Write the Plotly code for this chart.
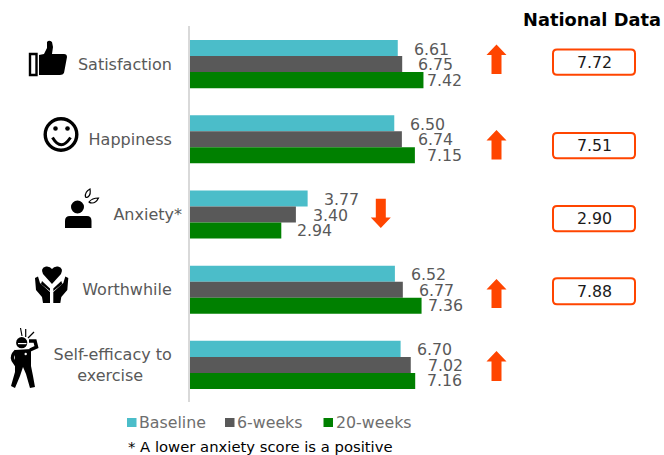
import plotly.graph_objects as go

# ---- data ----
categories = ["Satisfaction", "Happiness", "Anxiety*", "Worthwhile", "Self-efficacy to"]
PAD = "\u00a0\u00a0"
tick_labels = ["Satisfaction" + PAD, "Happiness" + PAD, "Anxiety*", "Worthwhile" + PAD,
               "Self-efficacy to" + PAD + "<br>exercise" + PAD + "\u00a0\u00a0\u00a0\u00a0\u00a0\u2009"]
series_names = ["Baseline", "6-weeks", "20-weeks"]
baseline = [6.61, 6.50, 3.77, 6.52, 6.70]
six_weeks = [6.75, 6.74, 3.40, 6.77, 7.02]
twenty_weeks = [7.42, 7.15, 2.94, 7.36, 7.16]
national = ["7.72", "7.51", "2.90", "7.88", None]
trend = ["up", "up", "down", "up", "up"]
header = "National Data"
footnote = "* A lower anxiety score is a positive"

# ---- style / layout ----
W, H = 664, 455
FONT = "DejaVu Sans"
colors = ["#4BBDC9", "#595959", "#008000"]
ORANGE = "#FF4500"
GREY = "#595959"
PLOT_L, PLOT_T, PLOT_B = 188.0, 26.5, 402.5
label_shift = [[15, 15, 3], [15, 15, 11], [15, 16, 15], [15, 15, 5], [15, 16, 11]]
box_rows = [(49.5, 74.7), (133, 158.3), (206, 231.3), (278.3, 304.3)]
arrow_rows = [(44.5, 74), (130, 159.5), (198.7, 228), (279, 308), (351, 381)]
legend_swatch_x = [127, 225, 323.5]


def X(p):
    return p / W


def Y(p):
    return 1 - p / H


def path(spec):
    """Turn a pixel-space path into a paper-space path."""
    out, is_x = [], True
    for tok in spec.split():
        if tok.isalpha():
            out.append(tok)
            is_x = True
        else:
            v = float(tok)
            out.append(f"{X(v) if is_x else Y(v):.5f}")
            is_x = not is_x
    return " ".join(out)


shapes = []


def add_path(spec, fill="black", lw=0, line="black", closed=True):
    shapes.append(dict(type="path", path=path(spec), xref="paper", yref="paper", layer="above",
                       fillcolor=fill if closed else "rgba(0,0,0,0)",
                       line=dict(color=line, width=lw)))


def add_circle(cx, cy, r, fill="black", lw=0, line="black"):
    shapes.append(dict(type="circle", xref="paper", yref="paper", layer="above",
                       x0=X(cx - r), x1=X(cx + r), y0=Y(cy + r), y1=Y(cy - r),
                       fillcolor=fill, line=dict(color=line, width=lw)))


def add_rect(x0, y0, x1, y1, fill):
    shapes.append(dict(type="rect", xref="paper", yref="paper", layer="above",
                       x0=X(x0), x1=X(x1), y0=Y(y1), y1=Y(y0),
                       fillcolor=fill, line=dict(width=0)))


def rounded_box(x0, y0, x1, y1, r=4):
    add_path(f"M {x0+r} {y0} L {x1-r} {y0} Q {x1} {y0} {x1} {y0+r} L {x1} {y1-r} Q {x1} {y1} {x1-r} {y1} "
             f"L {x0+r} {y1} Q {x0} {y1} {x0} {y1-r} L {x0} {y0+r} Q {x0} {y0} {x0+r} {y0} Z",
             fill="white", lw=2, line=ORANGE)


def arrow(cx, top, bottom, up):
    if up:
        head = top + 10.5
        add_path(f"M {cx} {top} L {cx+10} {head} L {cx+5} {head} L {cx+5} {bottom} "
                 f"L {cx-5} {bottom} L {cx-5} {head} L {cx-10} {head} Z", fill=ORANGE)
    else:
        head = bottom - 10.5
        add_path(f"M {cx} {bottom} L {cx+10} {head} L {cx+5} {head} L {cx+5} {top} "
                 f"L {cx-5} {top} L {cx-5} {head} L {cx-10} {head} Z", fill=ORANGE)


fig = go.Figure()
for name, vals, col in zip(series_names, [baseline, six_weeks, twenty_weeks], colors):
    fig.add_trace(go.Bar(name=name, y=categories, x=vals, orientation="h",
                         marker=dict(color=col, line=dict(width=0)), showlegend=False))

annotations = []


def txt(x, y, s, size=15.8, color=GREY, anchor="center", bold=False):
    annotations.append(dict(x=X(x), y=Y(y), xref="paper", yref="paper", text=f"<b>{s}</b>" if bold else s,
                            showarrow=False, xanchor=anchor, yanchor="middle", align="center",
                            font=dict(family=FONT, size=size, color=color)))


# value labels, positioned through the data axes
for j, vals in enumerate([baseline, six_weeks, twenty_weeks]):
    for i, v in enumerate(vals):
        annotations.append(dict(x=v, y=categories[i], xref="x", yref="y", text=f"{v:.2f}",
                                showarrow=False, xanchor="left", yanchor="middle",
                                xshift=label_shift[i][j] - 1, yshift=(1 - j) * 15.5 - 0.5,
                                font=dict(family=FONT, size=15.8, color=GREY)))

# axis line
add_rect(188, 26, 190, 402, "#D9D9D9")

# arrows and national data boxes
for (top, bottom), t, cx in zip(arrow_rows, trend, [496.5, 496.5, 380.8, 496.5, 496.5]):
    arrow(cx, top, bottom, t == "up")
for (y0, y1), v in zip(box_rows, [n for n in national if n]):
    rounded_box(553, y0, 635, y1)
    txt(594, (y0 + y1) / 2, v, color="#1a1a1a")
txt(591.5, 20, header, size=17.8, color="black", bold=True)

# legend
for sx, name, col in zip(legend_swatch_x, series_names, colors):
    add_rect(sx, 418, sx + 9.5, 427, col)
    txt(sx + 10, 422.5, name, color="#6E6E6E", anchor="left")
txt(125.5, 446, footnote, size=14.8, color="black", anchor="left")

# icon: thumbs up
add_path("M 30 54 L 36.5 54 L 36.5 75 L 30 75 Z", fill="white", lw=2.4)
add_path("M 39 55 L 44 54 L 47 48 L 47 42 Q 49 39.5 52 42 L 53 47 L 52 54 L 64 54 Q 67 54 67 57 "
         "L 64 73 Q 63 75 60 75 L 39 75 Z")
# icon: smiley
add_circle(61, 134.5, 15.8, fill="white", lw=3.4)
add_circle(55.5, 128.5, 2.3)
add_circle(67.5, 128.5, 2.3)
add_path("M 52.5 137.5 Q 61 152 70.5 137.5", lw=3, closed=False)
# icon: anxious person
add_circle(77.5, 207, 6.5)
add_path("M 65 228 L 65 221 Q 65 216 70 216 L 87 216 Q 91.5 216 91.5 221 L 91.5 228 Z")
add_path("M 85.5 197 Q 84.5 192 90 189 Q 91 194 88.5 196.5 Q 87 198 85.5 197 Z", fill="white", lw=1.2)
add_path("M 89 202 Q 92 198 98.5 198 Q 96 203 92 203 Q 90 203 89 202 Z", fill="white", lw=1.2)
# icon: heart in hands
add_path("M 52 284 L 43 274 Q 40 268 46 266.5 Q 50 266 52 269 Q 54 266 58 266.5 Q 64 268 61 274 Z")
for m in (0, 1):
    fx = (lambda v: 103.3 - v) if m else (lambda v: v)
    add_path(f"M {fx(35)} 278 L {fx(38)} 276.5 L {fx(40)} 283 L {fx(50)} 292 L {fx(50)} 303 L {fx(43)} 303 "
             f"L {fx(42)} 297 L {fx(36)} 290 Z")
    add_path(f"M {fx(42)} 281 L {fx(50)} 288.5 L {fx(50)} 291 L {fx(41)} 284 Z")
# icon: man flexing
add_path("M 15 350 L 31 349 L 31 366 L 33 376 L 35 387 L 30 388 L 26 374 L 23 367 L 20 376 L 15 388 "
         "L 11 386 L 15 372 L 15 365 Z")
add_circle(21.7, 342.7, 5.6)
add_rect(18, 343, 26.5, 344.2, "white")
add_path("M 16 351 Q 11 356 13 360 L 17 366", lw=3.5, closed=False)
add_path("M 30 350 L 36.5 347 L 35 341 L 29 341", lw=3.5, closed=False)
add_circle(25.7, 354, 1.2, fill="white")
for spec in ("M 20.5 328 L 22 336", "M 25.7 329 L 25.7 337", "M 34 332 L 28 338"):
    add_path(spec, lw=1.2, closed=False)

fig.update_layout(
    width=W, height=H, autosize=False, barmode="group", bargap=0.36, bargroupgap=0,
    margin=dict(l=0, r=0, t=0, b=0), paper_bgcolor="white", plot_bgcolor="white",
    showlegend=False, shapes=shapes, annotations=annotations,
    xaxis=dict(domain=[X(PLOT_L), 1], range=[0, 15], visible=False, showgrid=False, zeroline=False),
    yaxis=dict(domain=[Y(PLOT_B), Y(PLOT_T)], autorange="reversed", showgrid=False, zeroline=False,
               showline=False, ticks="", anchor="x", tickmode="array", tickvals=categories,
               ticktext=tick_labels, ticklabelstandoff=5,
               tickfont=dict(family=FONT, size=16, color=GREY)),
)
fig.write_html("out.html", config={"displayModeBar": False},
               post_script="document.body.style.margin='0';document.body.style.overflow='hidden';")
